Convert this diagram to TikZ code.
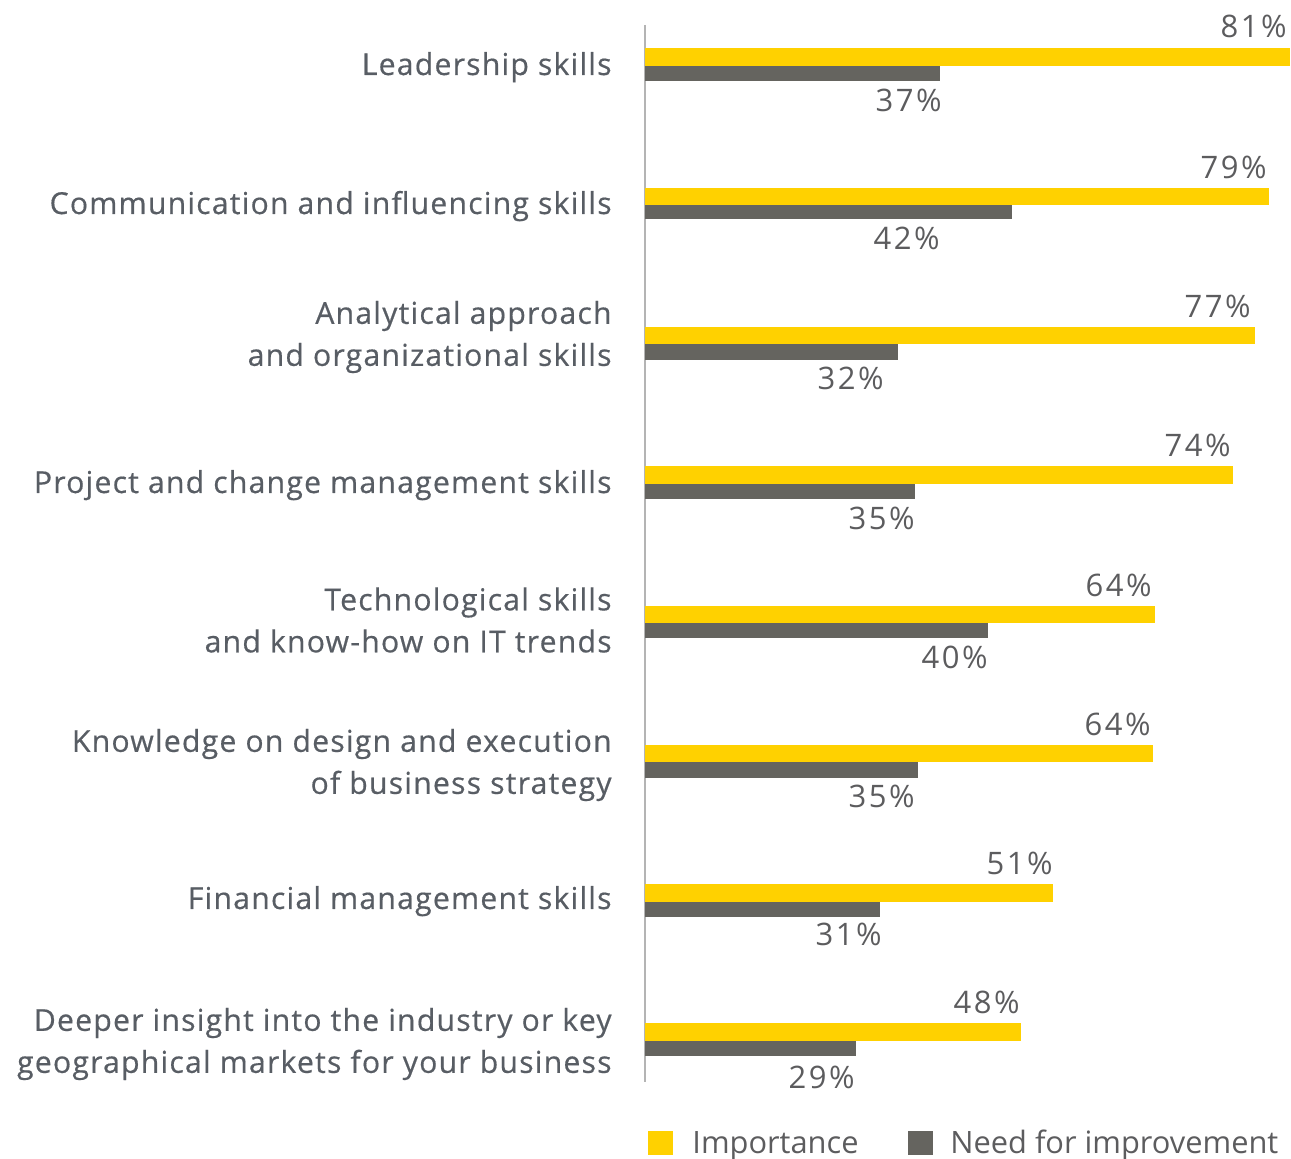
\documentclass[tikz,border=0pt]{standalone}
\usepackage{fontspec}
\setmainfont{Open Sans}
\newfontfamily\skillfont{Open Sans}[LetterSpace=4, FakeBold=0.5]
\newfontfamily\valuefont{Open Sans}[LetterSpace=8]
\definecolor{eyyellow}{HTML}{FFD100}
\definecolor{eygray}{HTML}{65645F}
\definecolor{labelgray}{HTML}{585D64}
\definecolor{valuegray}{HTML}{5C5C5E}
\definecolor{axisgray}{HTML}{B4B4B4}
\begin{document}
\begin{tikzpicture}
            [x=0.5pt, y=-0.5pt,
            skill/.style={anchor=east, align=right, inner sep=0pt, text=labelgray, font=\skillfont\fontsize{15.1}{21}\selectfont},
            skillone/.style={skill, anchor=base east},
            value/.style={anchor=base east, inner sep=0pt, text=valuegray, font=\valuefont\fontsize{15.5}{18}\selectfont},
            importance/.style={fill=eyyellow},
            improvement/.style={fill=eygray},
            keytext/.style={anchor=base west, inner sep=0pt, text=valuegray, font=\fontsize{15.4}{18}\selectfont}]

            \useasboundingbox (0,0) rectangle (1291,1159);

            % axis
            \coordinate (top) at (645,25);
            \coordinate (bottom) at (645,1082);
            \draw[axisgray, line width=1pt] (top) -- (bottom);

            % bars: importance on top, need for improvement below
            \fill[importance] (645,48) rectangle (1290,66);
            \fill[improvement] (645,66) rectangle (940,81);
            \fill[importance] (645,188) rectangle (1269,205);
            \fill[improvement] (645,205) rectangle (1012,219);
            \fill[importance] (645,327) rectangle (1255,344);
            \fill[improvement] (645,344) rectangle (898,360);
            \fill[importance] (645,466) rectangle (1233,484);
            \fill[improvement] (645,484) rectangle (915,499);
            \fill[importance] (645,606) rectangle (1155,623);
            \fill[improvement] (645,623) rectangle (988,638);
            \fill[importance] (645,745) rectangle (1153,762);
            \fill[improvement] (645,762) rectangle (918,778);
            \fill[importance] (645,884) rectangle (1053,902);
            \fill[improvement] (645,902) rectangle (880,917);
            \fill[importance] (645,1023) rectangle (1021,1041);
            \fill[improvement] (645,1041) rectangle (856,1056);

            % skill labels
            \node[skillone] (lead) at (612,75) {Leadership skills};
            \node[skillone] (comm) at (612,214) {Communication and influencing skills};
            \node[skill] (anal) at (612,337) {Analytical approach\\and organizational skills};
            \node[skillone] (proj) at (612,493) {Project and change management skills};
            \node[skill] (tech) at (612,620) {Technological skills\\and know-how on IT trends};
            \node[skill] (know) at (612,765) {Knowledge on design and execution\\of business strategy};
            \node[skillone] (fin) at (612,909) {Financial management skills};
            \node[skill] (deep) at (612,1044) {Deeper insight into the industry or key\\geographical markets for your business};

            % values
            \node[value] (lead-i) at (1287,38) {81\%};
            \node[value] (lead-n) at (942,112) {37\%};
            \node[value] (comm-i) at (1267,179) {79\%};
            \node[value] (comm-n) at (940,250) {42\%};
            \node[value] (anal-i) at (1251,318) {77\%};
            \node[value] (anal-n) at (884,390) {32\%};
            \node[value] (proj-i) at (1231,457) {74\%};
            \node[value] (proj-n) at (915,530) {35\%};
            \node[value] (tech-i) at (1152,597) {64\%};
            \node[value] (tech-n) at (988,669) {40\%};
            \node[value] (know-i) at (1151,736) {64\%};
            \node[value] (know-n) at (915,808) {35\%};
            \node[value] (fin-i) at (1053,875) {51\%};
            \node[value] (fin-n) at (882,946) {31\%};
            \node[value] (deep-i) at (1020,1014) {48\%};
            \node[value] (deep-n) at (855,1088) {29\%};

            % legend
            \fill[importance] (648,1131) rectangle (673,1155);
            \node[keytext] (key-i) at (692,1153) {Importance};
            \fill[improvement] (908,1131) rectangle (933,1155);
            \node[keytext] (key-n) at (950,1153) {Need for improvement};

        \end{tikzpicture}
\end{document}
